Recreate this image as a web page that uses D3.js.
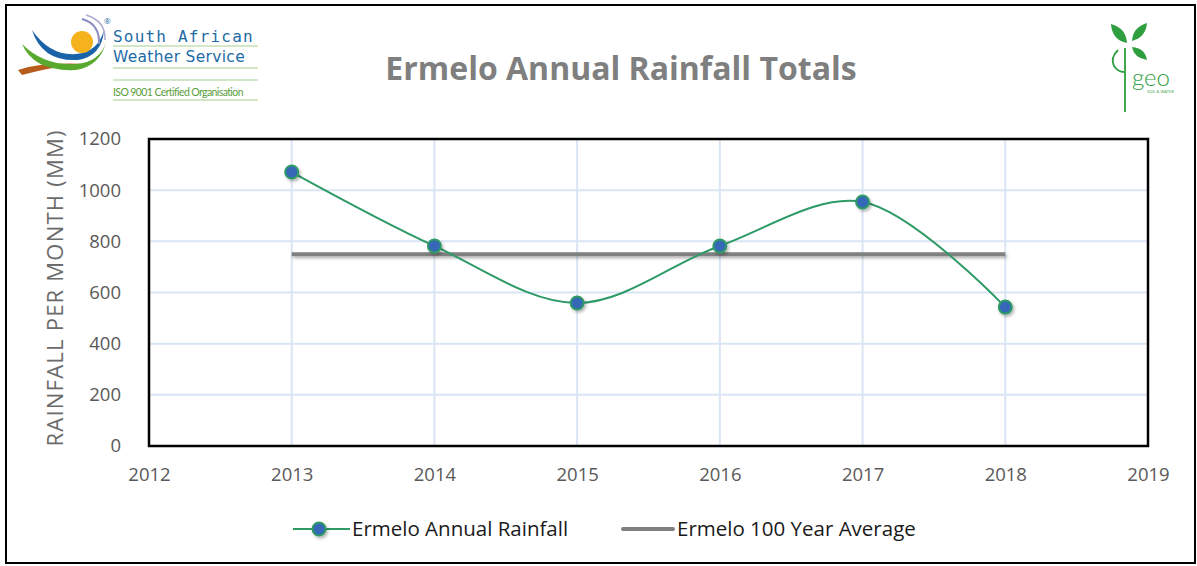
<!DOCTYPE html>
<html>
<head>
<meta charset="utf-8">
<script src="https://cdn.jsdelivr.net/npm/d3@7"></script>
<style>
  body { margin: 0; background: #fff; }
  text { font-family: "Open Sans", sans-serif; }
</style>
</head>
<body>
<div id="chart"></div>
<script>
// Ermelo annual rainfall
const years = [2013, 2014, 2015, 2016, 2017, 2018];
const rainfall = [1071, 782, 559, 782, 954, 543];
const average = [750, 750, 750, 750, 750, 750];
const xTicks = [2012, 2013, 2014, 2015, 2016, 2017, 2018, 2019];
const yTicks = [0, 200, 400, 600, 800, 1000, 1200];

const W = 1197, H = 566;
const margin = { top: 139, right: 49, bottom: 120, left: 149 };
const plotW = W - margin.left - margin.right;
const plotH = H - margin.top - margin.bottom;

const svg = d3.select('#chart').append('svg')
  .attr('width', W).attr('height', H);

// drop shadow in user space so flat lines keep it too
const shadow = svg.append('defs').append('filter').attr('id', 'shadow')
  .attr('filterUnits', 'userSpaceOnUse')
  .attr('x', -W).attr('y', -H).attr('width', 3 * W).attr('height', 3 * H);
shadow.append('feDropShadow')
  .attr('dx', 1.5).attr('dy', 2).attr('stdDeviation', 1.5)
  .attr('flood-color', '#000').attr('flood-opacity', 0.3);

// outer frame
svg.append('rect')
  .attr('x', 6).attr('y', 5).attr('width', W - 8).attr('height', H - 8)
  .attr('fill', '#fff').attr('stroke', '#000').attr('stroke-width', 2);

const x = d3.scaleLinear().domain([2012, 2019]).range([0, plotW]);
const y = d3.scaleLinear().domain([0, 1200]).range([plotH, 0]);

const g = svg.append('g').attr('transform', `translate(${margin.left},${margin.top})`);

// gridlines
g.append('g').selectAll('line').data(yTicks.slice(1, -1)).join('line')
  .attr('x1', 0).attr('x2', plotW)
  .attr('y1', d => y(d)).attr('y2', d => y(d))
  .attr('stroke', '#dae5f3').attr('stroke-width', 2);
g.append('g').selectAll('line').data(xTicks.slice(1, -1)).join('line')
  .attr('x1', d => x(d)).attr('x2', d => x(d))
  .attr('y1', 0).attr('y2', plotH)
  .attr('stroke', '#dae5f3').attr('stroke-width', 2);

// plot border
g.append('rect')
  .attr('width', plotW).attr('height', plotH)
  .attr('fill', 'none').attr('stroke', '#000').attr('stroke-width', 2.5);

// axes (labels only)
const xAxis = g.append('g').attr('transform', `translate(0,${plotH})`)
  .call(d3.axisBottom(x).tickValues(xTicks).tickFormat(d3.format('d')).tickSize(0).tickPadding(22));
const yAxis = g.append('g')
  .call(d3.axisLeft(y).tickValues(yTicks).tickFormat(d3.format('d')).tickSize(0).tickPadding(28));
[xAxis, yAxis].forEach(a => {
  a.select('.domain').remove();
  a.selectAll('text').attr('font-size', 18.5).attr('fill', '#595959')
    .style('font-family', '"Open Sans", sans-serif');
});

// axis title
svg.append('text')
  .attr('transform', `translate(63,${margin.top + plotH / 2 - 4}) rotate(-90)`)
  .attr('text-anchor', 'middle')
  .attr('font-size', 22).attr('fill', '#6b6b6b')
  .attr('textLength', 316).attr('lengthAdjust', 'spacing')
  .text('RAINFALL PER MONTH (MM)');

// 100 year average
const avgLine = d3.line().x((d, i) => x(years[i])).y(d => y(d));
g.append('path').datum(average)
  .attr('d', avgLine)
  .attr('fill', 'none').attr('stroke', '#808080').attr('stroke-width', 4)
  .attr('filter', 'url(#shadow)');

// rainfall series (smoothed)
const rainLine = d3.line().x((d, i) => x(years[i])).y(d => y(d)).curve(d3.curveCatmullRom.alpha(0.5));
g.append('path').datum(rainfall)
  .attr('d', rainLine)
  .attr('fill', 'none').attr('stroke', '#2e9a66').attr('stroke-width', 2);

g.append('g').selectAll('circle').data(rainfall).join('circle')
  .attr('cx', (d, i) => x(years[i])).attr('cy', d => y(d))
  .attr('r', 6.5)
  .attr('fill', '#3469b8').attr('stroke', '#2e9a66').attr('stroke-width', 2)
  .attr('filter', 'url(#shadow)');

// title
svg.append('text')
  .attr('x', 621).attr('y', 80)
  .attr('text-anchor', 'middle')
  .attr('font-size', 32).attr('font-weight', 'bold').attr('fill', '#7f7f7f')
  .text('Ermelo Annual Rainfall Totals');

// legend
const leg = svg.append('g').attr('transform', 'translate(0,529)');
leg.append('line').attr('x1', 293).attr('x2', 350).attr('y1', 0).attr('y2', 0)
  .attr('stroke', '#2e9a66').attr('stroke-width', 2);
leg.append('circle').attr('cx', 319).attr('cy', 0).attr('r', 6.5)
  .attr('fill', '#3469b8').attr('stroke', '#2e9a66').attr('stroke-width', 2)
  .attr('filter', 'url(#shadow)');
leg.append('text').attr('x', 352).attr('y', 7)
  .attr('font-size', 20.5).attr('fill', '#1a1a1a').text('Ermelo Annual Rainfall');
leg.append('line').attr('x1', 623).attr('x2', 673).attr('y1', 0).attr('y2', 0)
  .attr('stroke', '#808080').attr('stroke-width', 4).attr('stroke-linecap', 'round');
leg.append('text').attr('x', 677).attr('y', 7)
  .attr('font-size', 20.5).attr('fill', '#1a1a1a').text('Ermelo 100 Year Average');

// South African Weather Service logo
const saws = svg.append('g');
saws.append('path').attr('d', 'M18,70 Q42,62 86,64 Q60,65 22,75 Z')
  .attr('fill', '#b85c1c');
saws.append('path').attr('d', 'M22,44 Q34,72 76,70 Q100,66 106,42 Q100,62 76,64 Q44,66 22,44 Z')
  .attr('fill', '#59a92f');
saws.append('path').attr('d', 'M32,30 Q42,62 78,60 Q102,56 104,30 Q98,52 76,54 Q50,56 32,30 Z')
  .attr('fill', '#1b63a8');
saws.append('circle').attr('cx', 82).attr('cy', 42).attr('r', 11).attr('fill', '#f5b21c');
saws.append('path').attr('d', 'M82,19 Q100,24 99,44').attr('fill', 'none').attr('stroke', '#8c8fbf').attr('stroke-width', 2);
saws.append('path').attr('d', 'M86,15 Q106,21 105,40').attr('fill', 'none').attr('stroke', '#a9abd0').attr('stroke-width', 1.5);
saws.append('text').attr('x', 113).attr('y', 42).attr('font-size', 16).attr('fill', '#1e6ba6')
  .attr('letter-spacing', 1.2).style('font-family', 'DejaVu Sans Mono, monospace').text('South African');
saws.append('line').attr('x1', 113).attr('x2', 258).attr('y1', 46).attr('y2', 46).attr('stroke', '#a8d08d').attr('stroke-width', 1);
saws.append('text').attr('x', 113).attr('y', 62).attr('font-size', 15.5).attr('fill', '#1e6ba6')
  .attr('letter-spacing', 0.3).style('font-family', 'DejaVu Sans, sans-serif').text('Weather Service');
saws.append('line').attr('x1', 113).attr('x2', 258).attr('y1', 68).attr('y2', 68).attr('stroke', '#a8d08d').attr('stroke-width', 1);
saws.append('line').attr('x1', 113).attr('x2', 258).attr('y1', 80).attr('y2', 80).attr('stroke', '#a8d08d').attr('stroke-width', 1);
saws.append('text').attr('x', 113).attr('y', 96).attr('font-size', 10.5).attr('fill', '#5a9e3c')
  .attr('letter-spacing', -0.6).style('font-family', 'Lato, sans-serif').text('ISO 9001 Certified Organisation');
saws.append('line').attr('x1', 113).attr('x2', 258).attr('y1', 100).attr('y2', 100).attr('stroke', '#a8d08d').attr('stroke-width', 1);
saws.append('text').attr('x', 104).attr('y', 24).attr('font-size', 8).attr('fill', '#1e6ba6').text('®');

// geo logo
const geo = svg.append('g').attr('fill', '#2f9e3f');
geo.append('path').attr('d', 'M1127,43 Q1112,40 1111,24 Q1126,28 1127,43 Z');
geo.append('path').attr('d', 'M1132,41 Q1133,27 1147,23 Q1146,37 1132,41 Z');
geo.append('path').attr('d', 'M1132,47 Q1145,48 1147,60 Q1134,58 1132,47 Z');
geo.append('path').attr('d', 'M1125,48 L1125,112 M1118,50 Q1110,58 1114,66 Q1118,72 1124,72')
  .attr('fill', 'none').attr('stroke', '#2f9e3f').attr('stroke-width', 1.8);
geo.append('text').attr('x', 1132).attr('y', 86).attr('font-size', 24).attr('font-weight', 300)
  .style('font-family', 'Lato, sans-serif').attr('fill', '#2f9e3f').text('geo');
geo.append('text').attr('x', 1147).attr('y', 93).attr('font-size', 4).attr('fill', '#2f9e3f').text('SOIL & WATER');
</script>
</body>
</html>
